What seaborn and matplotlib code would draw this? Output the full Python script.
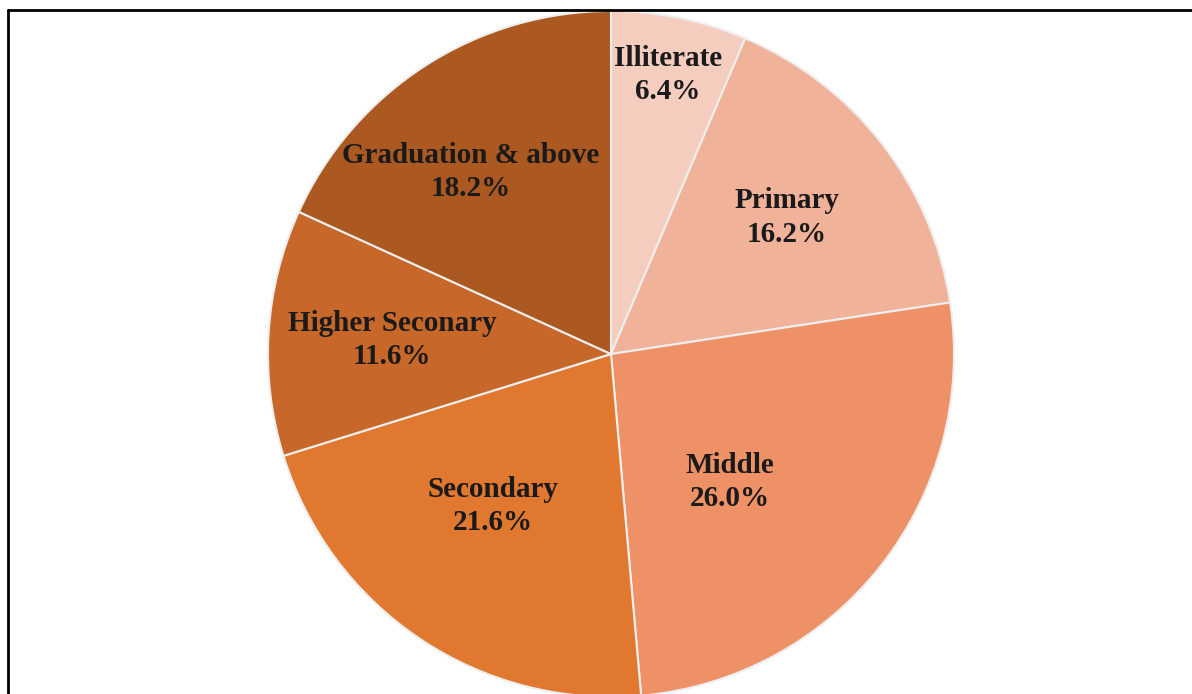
import numpy as np
import matplotlib
matplotlib.use("Agg")
import matplotlib.pyplot as plt
import seaborn as sns
from matplotlib.lines import Line2D

categories = ["Illiterate", "Primary", "Middle", "Secondary",
              "Higher Seconary", "Graduation & above"]
shares = [6.4, 16.2, 26.0, 21.6, 11.6, 18.2]
colors = ["#F5CDBF", "#F1B29A", "#EF9167", "#E0782F", "#C7672A", "#AC5821"]

# label placement (radius fraction, angle tweak in degrees)
label_r = [0.83, 0.65, 0.51, 0.56, 0.64, 0.67]
label_dang = [0, 0, -9, -4, 0, 5]

sns.set_theme(style="white")
plt.rcParams["font.family"] = ["Liberation Serif", "DejaVu Serif"]

fig = plt.figure(figsize=(11.92, 6.94), dpi=100)
W, H = 1192, 694
cx, cy, r = 611, 354, 343
ax = fig.add_axes([(cx - r) / W, (H - cy - r) / H, 2 * r / W, 2 * r / H])

wedges, _ = ax.pie(shares, colors=colors, startangle=90, counterclock=False,
                   radius=1.0,
                   wedgeprops=dict(edgecolor="#EEEEEE", linewidth=1.5))
ax.set_xlim(-1, 1)
ax.set_ylim(-1, 1)
ax.set_aspect("equal")
ax.axis("off")

for w, name, val, lr, da in zip(wedges, categories, shares, label_r, label_dang):
    ang = np.deg2rad((w.theta1 + w.theta2) / 2 + da)
    ax.text(lr * np.cos(ang), lr * np.sin(ang), f"{name}\n{val:.1f}%",
            ha="center", va="center", fontsize=21, fontweight="bold",
            color="#1a1a1a", linespacing=1.3)

# outer frame (top and left edges visible)
fig.add_artist(Line2D([8 / W, 1], [1 - 10 / H, 1 - 10 / H], color="black",
                      linewidth=2, transform=fig.transFigure))
fig.add_artist(Line2D([8 / W, 8 / W], [0, 1 - 10 / H], color="black",
                      linewidth=2, transform=fig.transFigure))

fig.savefig("out.png", dpi=100, facecolor="white")
